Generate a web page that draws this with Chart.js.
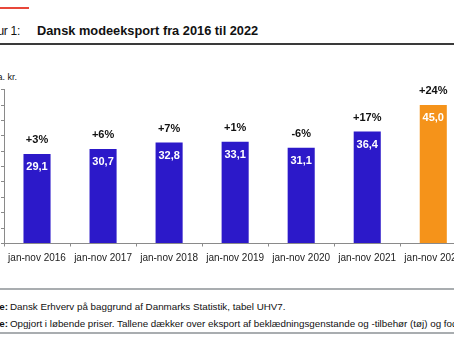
<!DOCTYPE html>
<html>
<head>
<meta charset="utf-8">
<script src="https://cdn.jsdelivr.net/npm/chart.js@4"></script>
<style>
  html, body { margin: 0; padding: 0; background: #fff; }
  body { width: 454px; height: 341px; overflow: hidden; position: relative; font-family: "Liberation Sans", Arial, sans-serif; color: #111; }
  .abs { position: absolute; white-space: nowrap; }
  #redline { left: -10px; top: 7px; width: 39px; height: 2px; background: #e8473a; }
  #figno { right: 434px; top: 23px; font-size: 12px; line-height: 16px; letter-spacing: -0.3px; }
  #title { left: 37px; top: 23px; font-size: 12.8px; line-height: 16px; font-weight: bold; }
  #rule1 { left: 0; top: 43px; width: 454px; height: 2px; background: #3a3a3a; }
  #unit { right: 437px; top: 71.5px; font-size: 9px; line-height: 11px; }
  #chartbox { left: -40px; top: 60px; width: 520px; height: 220px; }
  #rule2 { left: 0; top: 288px; width: 454px; height: 2px; background: #a9adb0; }
  #rule3 { left: 0; top: 332px; width: 454px; height: 2px; background: #a9adb0; }
  .fn { left: 0; width: 454px; height: 12px; font-size: 9.8px; line-height: 12px; }
  .fn .lbl { position: absolute; right: 446px; top: 0; font-weight: bold; }
  .fn .txt { position: absolute; left: 10px; top: 0; }
  #fn1 { top: 300.5px; }
  #fn2 { top: 318px; }
</style>
</head>
<body>
<div class="abs" id="redline"></div>
<div class="abs" id="figno">Figur 1:</div>
<div class="abs" id="title">Dansk modeeksport fra 2016 til 2022</div>
<div class="abs" id="rule1"></div>
<div class="abs" id="unit">Mia. kr.</div>
<div class="abs" id="chartbox"><canvas id="c" width="520" height="220"></canvas></div>
<div class="abs" id="rule2"></div>
<div class="abs fn" id="fn1"><span class="lbl">Kilde:</span><span class="txt">Dansk Erhverv på baggrund af Danmarks Statistik, tabel UHV7.</span></div>
<div class="abs fn" id="fn2"><span class="lbl">Note:</span><span class="txt">Opgjort i løbende priser. Tallene dækker over eksport af beklædningsgenstande og -tilbehør (tøj) og fodtøj.</span></div>
<div class="abs" id="rule3"></div>
<script>
// Danish fashion export, January-November, billion DKK
const categories = ["jan-nov 2016", "jan-nov 2017", "jan-nov 2018", "jan-nov 2019", "jan-nov 2020", "jan-nov 2021", "jan-nov 2022"];
const exportValues = [29.1, 30.7, 32.8, 33.1, 31.1, 36.4, 45.0];
const growthLabels = ["+3%", "+6%", "+7%", "+1%", "-6%", "+17%", "+24%"];
const yTicks = [0, 5, 10, 15, 20, 25, 30, 35, 40, 45, 50];

const BLUE = "#2c19c9";
const ORANGE = "#f5931a";
const barColors = exportValues.map((v, i) => i === exportValues.length - 1 ? ORANGE : BLUE);

const fmt = v => v.toFixed(1).replace(".", ",");

const barLabels = {
  id: "barLabels",
  afterDatasetsDraw(chart) {
    const ctx = chart.ctx;
    const meta = chart.getDatasetMeta(0);
    ctx.save();
    ctx.textAlign = "center";
    ctx.textBaseline = "middle";
    meta.data.forEach((bar, i) => {
      ctx.font = "bold 11px 'Liberation Sans', Arial, sans-serif";
      ctx.fillStyle = "#ffffff";
      ctx.fillText(fmt(exportValues[i]), bar.x, bar.y + 13);
      ctx.fillStyle = "#111111";
      ctx.fillText(growthLabels[i], bar.x, bar.y - 14);
    });
    ctx.restore();
  }
};

new Chart(document.getElementById("c"), {
  type: "bar",
  data: {
    labels: categories,
    datasets: [{
      data: exportValues,
      backgroundColor: barColors,
      borderWidth: 0,
      categoryPercentage: 1,
      barPercentage: 0.41
    }]
  },
  options: {
    responsive: false,
    animation: false,
    events: [],
    layout: { padding: { left: 0, right: 13.7, top: 29.7, bottom: 10 } },
    plugins: { legend: { display: false }, tooltip: { enabled: false } },
    scales: {
      x: {
        grid: { drawOnChartArea: false, drawTicks: true, tickLength: 3, color: "#8a8a8a" },
        border: { color: "#8a8a8a", width: 1 },
        ticks: {
          color: "#222",
          padding: 6,
          maxRotation: 0,
          autoSkip: false,
          font: { family: "'Liberation Sans', Arial, sans-serif", size: 10 }
        },
        afterFit(scale) { scale.height = 26.5; }
      },
      y: {
        min: 0,
        max: 50,
        afterBuildTicks(scale) { scale.ticks = yTicks.map(v => ({ value: v })); },
        grid: { drawOnChartArea: false, drawTicks: true, tickLength: 3, color: "#8a8a8a" },
        border: { color: "#8a8a8a", width: 1 },
        ticks: { display: false },
        afterFit(scale) { scale.width = 44; }
      }
    }
  },
  plugins: [barLabels]
});
</script>
</body>
</html>
